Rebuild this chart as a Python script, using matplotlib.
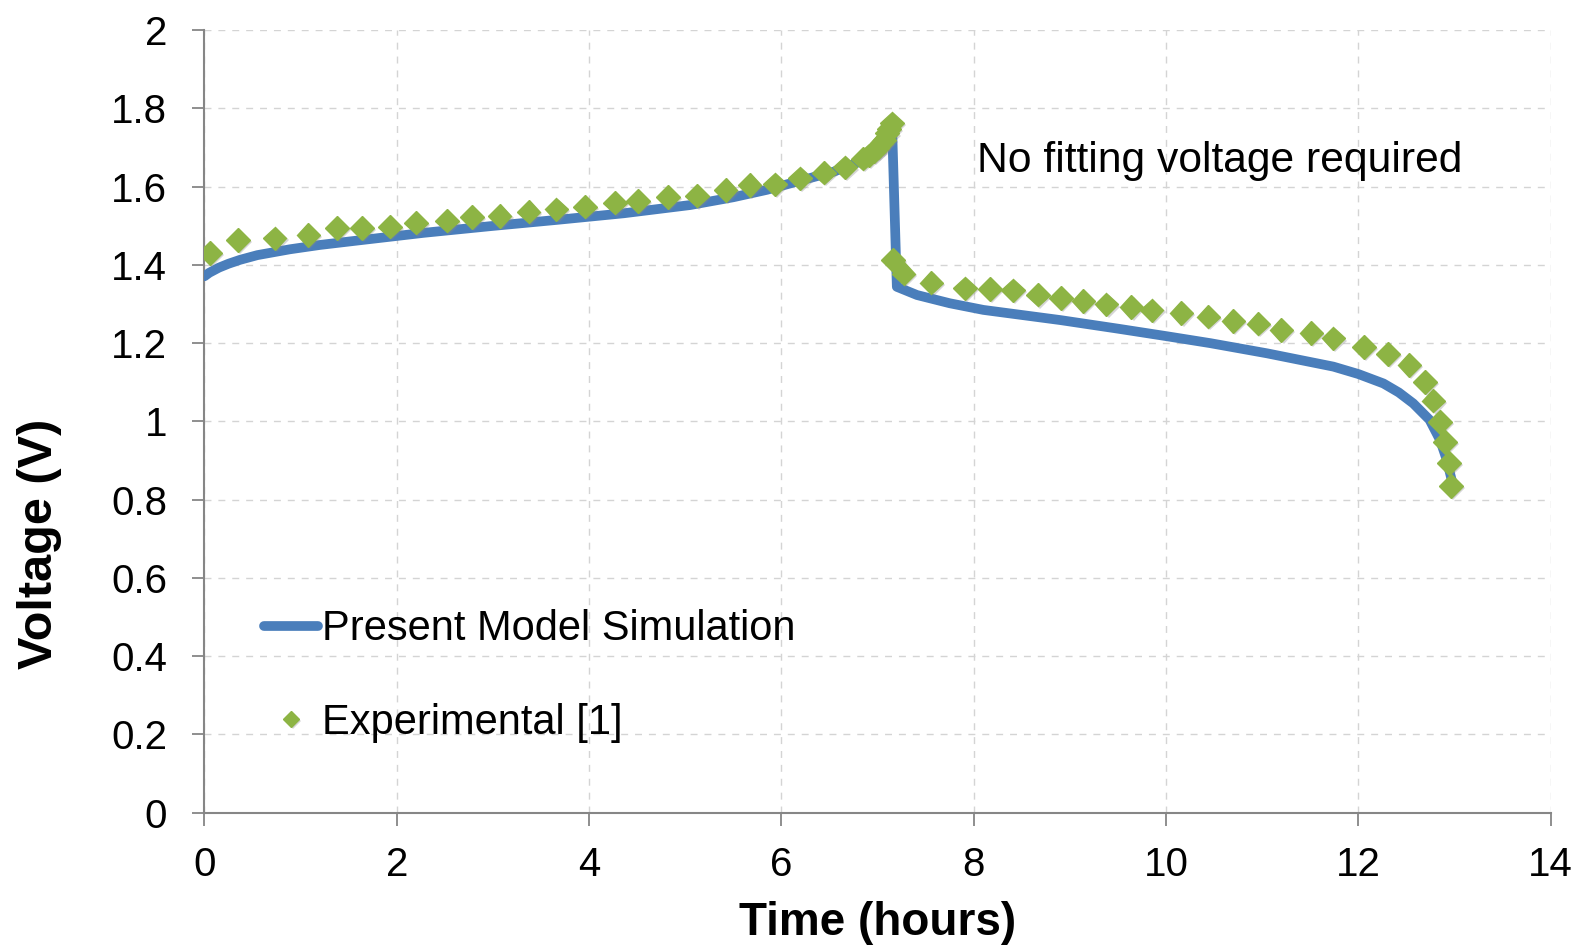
import matplotlib
matplotlib.use("Agg")
import matplotlib.pyplot as plt
import matplotlib.patheffects as pe

plt.rcParams['font.family'] = ['Liberation Sans', 'DejaVu Sans']

# model simulation: cell voltage over one charge/discharge cycle
t_sim = [0.0, 0.05, 0.15, 0.25, 0.37, 0.55, 0.89, 1.20, 1.58, 2.28, 2.97, 3.66, 4.36,
         5.05, 5.50, 5.85, 6.19, 6.54, 6.82, 6.99, 7.10, 7.15, 7.20, 7.41, 7.75, 8.10,
         8.90, 9.50, 10.00, 10.46, 11.05, 11.74, 12.00, 12.26, 12.42, 12.57, 12.74,
         12.85, 12.92, 12.97]
v_sim = [1.371, 1.380, 1.393, 1.403, 1.413, 1.425, 1.440, 1.451, 1.462, 1.482, 1.499, 1.515, 1.532,
         1.553, 1.573, 1.592, 1.615, 1.638, 1.664, 1.694, 1.728, 1.758, 1.344, 1.323, 1.302, 1.285,
         1.259, 1.237, 1.218, 1.200, 1.174, 1.140, 1.121, 1.097, 1.074, 1.046, 1.004,
         0.952, 0.901, 0.850]

# experimental points [1]
t_exp = [0.06, 0.35, 0.73, 1.08, 1.38, 1.64, 1.93, 2.20, 2.52, 2.78, 3.07, 3.37,
         3.66, 3.96, 4.27, 4.51, 4.82, 5.12, 5.42, 5.67, 5.93, 6.19, 6.44, 6.66,
         6.85, 6.91, 6.96, 7.00, 7.04, 7.07, 7.10, 7.12, 7.15,
         7.16, 7.27, 7.56, 7.91, 8.17, 8.41, 8.67, 8.91, 9.14, 9.38, 9.64, 9.85,
         10.16, 10.44, 10.70, 10.96, 11.20, 11.51, 11.74, 12.06, 12.31, 12.53, 12.69,
         12.78, 12.85, 12.90, 12.94, 12.96]
v_exp = [1.430, 1.464, 1.468, 1.476, 1.494, 1.494, 1.498, 1.508, 1.513, 1.523, 1.525, 1.536,
         1.542, 1.549, 1.559, 1.564, 1.573, 1.577, 1.591, 1.604, 1.606, 1.621, 1.636, 1.649,
         1.672, 1.680, 1.690, 1.700, 1.711, 1.720, 1.736, 1.748, 1.762,
         1.412, 1.378, 1.355, 1.340, 1.338, 1.335, 1.324, 1.315, 1.308, 1.299, 1.292, 1.284,
         1.277, 1.268, 1.257, 1.250, 1.233, 1.226, 1.212, 1.190, 1.172, 1.144, 1.101,
         1.053, 0.999, 0.948, 0.893, 0.835]

x_ticks = [0, 2, 4, 6, 8, 10, 12, 14]
y_ticks = [0, 0.2, 0.4, 0.6, 0.8, 1.0, 1.2, 1.4, 1.6, 1.8, 2.0]
y_tick_labels = ['0', '0.2', '0.4', '0.6', '0.8', '1', '1.2', '1.4', '1.6', '1.8', '2']

fig = plt.figure(figsize=(15.79, 9.52), dpi=100)
ax = fig.add_axes([0.1295, 0.1464, 0.8526, 0.8219])

ax.plot(t_sim, v_sim, color='#4a7ebb', lw=7, solid_capstyle='round', solid_joinstyle='round',
        label='Present Model Simulation', zorder=3)
ax.plot(t_exp, v_exp, ls='none', marker='D', ms=12, color='#8db444', mec='#8db444',
        label='Experimental [1]', zorder=4,
        path_effects=[pe.SimplePatchShadow(offset=(1.5, -1.5), shadow_rgbFace='#888888', alpha=0.35),
                      pe.Normal()])

ax.set_xlim(0, 14)
ax.set_ylim(0, 2)
ax.set_xticks(x_ticks)
ax.set_yticks(y_ticks)
ax.set_yticklabels(y_tick_labels)

ax.grid(True, ls=(0, (5, 5)), color='#d4d4d4', lw=1)
ax.set_axisbelow(True)
for side in ['top', 'right']:
    ax.spines[side].set_visible(False)
for side in ['left', 'bottom']:
    ax.spines[side].set_color('#868686')
    ax.spines[side].set_linewidth(1.5)

ax.tick_params(axis='both', direction='out', length=9, width=1.3, color='#868686',
               labelsize=29)
ax.tick_params(axis='y', pad=18)
ax.tick_params(axis='x', pad=15)

ax.set_xlabel('Time (hours)', fontsize=33, fontweight='bold')
ax.xaxis.set_label_coords(0.5, -0.113)
ax.set_ylabel('Voltage (V)', fontsize=35, fontweight='bold')
ax.yaxis.set_label_coords(-0.106, 0.343)

ax.text(0.574, 0.833, 'No fitting voltage required', transform=ax.transAxes,
        fontsize=30.7, ha='left', va='center')

leg = ax.legend(loc='center left', bbox_to_anchor=(264 / 1579, 1 - 676 / 952),
                bbox_transform=fig.transFigure, frameon=False, fontsize=30,
                handlelength=1.3, handletextpad=0.1, labelspacing=1.28,
                borderpad=0, borderaxespad=0, numpoints=1, markerscale=0.65)

fig.savefig('out.png', dpi=100, facecolor='white')
